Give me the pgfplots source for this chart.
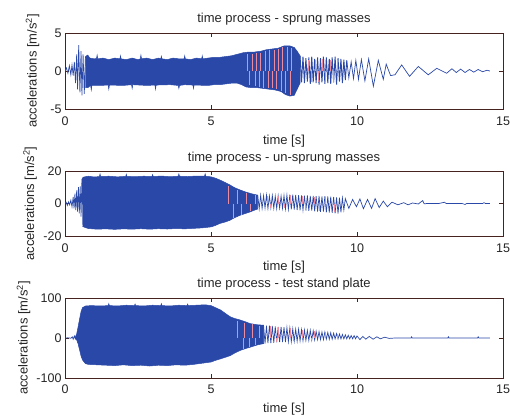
\documentclass[border=0pt]{standalone}
\usepackage{fontspec}
\setmainfont{Liberation Sans}
\usepackage{pgfplots}
\pgfplotsset{compat=1.18}
\definecolor{mblue}{RGB}{42,72,168}
\definecolor{mred}{RGB}{236,140,160}
\definecolor{axcol}{RGB}{70,35,30}
\pgfplotsset{
 mstyle/.style={
  scale only axis, width=438pt,
  xmin=0, xmax=15, xtick={0,5,10,15}, xticklabels={0,5,10,15},
  tick pos=both, tick align=inside, major tick length=4pt,
  axis line style={draw=axcol, line width=0.8pt},
  tick style={draw=axcol, line width=0.6pt},
  tick label style={font=\fontsize{12.5}{14}\selectfont, text=black!85},
  label style={font=\fontsize{13}{15}\selectfont, text=black!85},
  title style={font=\fontsize{13}{15}\selectfont, text=black!85, at={(0.5,1)}, anchor=center},
  xticklabel style={anchor=center},
  xlabel style={at={(0.5,0)}, anchor=center},
  xlabel={time [s]},
  ylabel={accelerations [m/s\textsuperscript{2}]},
 }
}
\begin{document}
\begin{tikzpicture}
\path[use as bounding box] (0,0) rectangle (510pt,-415pt);
% ---------------- sprung masses
\begin{axis}[mstyle, at={(65pt,-109pt)}, anchor=south west, height=76pt,
  ymin=-5, ymax=5, ytick={-5,0,5}, yticklabels={-5,0,5},
  title={time process - sprung masses}, title style={yshift=8pt},
  xticklabel style={yshift=-12.5pt}, xlabel style={yshift=-32pt},
  ylabel style={at={(-0.0742,0.5)}, anchor=center}]
\addplot[mblue, line width=0.7pt] coordinates {(0,0)(0.05,0.4)(0.1,-0.3)(0.15,0.7)(0.2,-0.5)(0.24,0.8)(0.28,-0.6)(0.32,1.2)(0.36,-1.6)(0.4,2.2)(0.43,-2.4)(0.47,3.4)(0.51,-2.8)(0.55,2.6)(0.58,-3.2)(0.62,2.2)(0.66,-3.0)(0.7,1.9)};
\addplot[draw=mblue, fill=mblue, line width=0.5pt] coordinates {
(0.70,1.9)(0.78,2.1)(0.85,1.7)(1.0,1.6)(1.08,1.65)(1.1,2.1)(1.12,1.6)(1.3,1.7)(1.5,1.5)(1.7,1.7)(1.88,1.6)(1.9,2.0)(1.92,1.6)(2.1,1.5)(2.3,1.7)(2.5,1.5)(2.58,1.6)(2.6,2.1)(2.62,1.6)(2.8,1.7)(3.0,1.5)(3.2,1.7)(3.28,1.6)(3.3,1.95)(3.32,1.6)(3.5,1.5)(3.7,1.7)(3.9,1.6)(4.08,1.6)(4.1,2.0)(4.12,1.6)(4.3,1.5)(4.5,1.7)(4.68,1.6)(4.7,2.0)(4.72,1.6)(4.9,1.7)(5.1,1.8)(5.3,1.8)(5.5,1.9)(5.7,2.0)(5.9,2.2)(6.1,2.4)(6.3,2.5)(6.5,2.5)(6.7,2.6)(6.9,2.8)(7.1,2.9)(7.3,3.0)(7.5,3.3)(7.7,3.3)(7.85,3.1)(7.95,2.6)(8.05,2.0)
(8.05,-1.6)(7.95,-2.4)(7.85,-3.2)(7.7,-3.3)(7.55,-3.1)(7.4,-2.7)(7.2,-2.5)(7.0,-2.4)(6.8,-2.3)(6.6,-2.2)(6.4,-2.2)(6.2,-2.1)(6.05,-1.8)(5.9,-1.6)(5.7,-1.6)(5.5,-1.7)(5.3,-1.8)(5.1,-1.8)(4.9,-1.9)(4.42,-1.85)(4.4,-2.3)(4.38,-1.85)(4.1,-1.8)(3.92,-1.9)(3.9,-2.3)(3.88,-1.9)(3.6,-1.8)(3.12,-1.85)(3.1,-2.4)(3.08,-1.85)(2.8,-1.9)(2.32,-1.8)(2.3,-2.3)(2.28,-1.8)(2.0,-1.9)(1.52,-1.85)(1.5,-2.4)(1.48,-1.85)(1.2,-1.9)(0.92,-1.9)(0.9,-2.5)(0.88,-1.9)(0.78,-2.2)(0.7,-2.2)};
\addplot[ycomb, draw=mred, line width=0.5pt] coordinates {(6.25,2.2)(6.4,2.3)(6.55,2.4)(6.7,2.4)(6.85,2.6)(7.0,2.7)(7.15,2.8)(7.3,2.9)(7.45,3.1)(7.6,3.1)(7.75,3.0)};
\addplot[ycomb, draw=mred, line width=0.5pt] coordinates {(6.3,-1.9)(6.5,-2.0)(6.65,-2.1)(6.8,-2.2)(6.95,-2.2)(7.1,-2.3)(7.25,-2.4)(7.4,-2.6)(7.55,-2.9)(7.7,-3.1)};
\addplot[mblue, line width=0.9pt] coordinates {(8.05,2.0)(8.10,-1.5)(8.15,1.9)(8.20,-1.6)(8.25,1.7)(8.30,-1.4)(8.35,1.8)(8.40,-1.7)(8.45,1.9)(8.50,-1.5)(8.55,1.6)(8.60,-1.6)(8.65,1.8)(8.70,-1.8)(8.75,1.7)(8.80,-1.5)(8.85,1.9)(8.90,-1.7)(8.95,1.8)(9.00,-1.6)(9.05,1.6)(9.10,-1.7)(9.15,1.8)(9.20,-1.5)(9.25,1.9)(9.30,-1.8)(9.35,1.7)(9.40,-1.4)(9.45,1.6)(9.50,-1.6)(9.55,1.5)(9.60,-1.2)(9.65,1.4)};
\addplot[mblue, line width=0.7pt] coordinates {(9.65,1.4)(9.72,-0.9)(9.80,1.2)(9.88,-1.0)(9.96,1.4)(10.05,-1.1)(10.15,1.5)(10.27,-1.3)(10.4,1.6)(10.56,-2.0)(10.73,1.4)(10.9,-1.1)(11.0,0.9)(11.15,-0.6)(11.3,-0.5)(11.53,0.8)(11.8,-0.7)(12.1,0.6)(12.44,-0.5)(12.73,0.35)(13.07,-0.3)(13.25,0.3)(13.4,-0.2)(13.55,0.25)(13.7,-0.2)(13.85,0.2)(14.0,-0.15)(14.15,0.2)(14.3,-0.1)(14.45,0.1)(14.55,0)};
\addplot[ycomb, draw=mred, line width=0.5pt] coordinates {(8.32,1.5)(8.57,1.4)(8.82,1.6)(9.07,1.4)(9.32,1.5)};
\addplot[ycomb, draw=mred, line width=0.5pt] coordinates {(8.42,-1.5)(8.67,-1.4)(8.92,-1.5)(9.17,-1.4)};
\end{axis}
% ---------------- un-sprung masses
\begin{axis}[mstyle, at={(65pt,-236pt)}, anchor=south west, height=65pt,
  ymin=-20, ymax=20, ytick={-20,0,20}, yticklabels={-20,0,20},
  title={time process - un-sprung masses}, title style={yshift=7pt},
  xticklabel style={yshift=-12pt}, xlabel style={yshift=-31pt},
  ylabel style={at={(-0.0799,0.5)}, anchor=center}]
\addplot[mblue, line width=0.7pt] coordinates {(0,0)(0.04,0.8)(0.08,-1.2)(0.12,1.0)(0.16,-0.8)(0.2,2)(0.24,-2)(0.28,4)(0.31,-3)(0.34,6)(0.37,-4)(0.4,8)(0.43,-5)(0.46,10)(0.49,-6)(0.52,10.5)(0.55,-8)(0.58,15)};
\addplot[draw=mblue, fill=mblue, line width=0.5pt] coordinates {
(0.58,15)(0.62,16.2)(0.8,16.8)(1.0,16.3)(1.18,16.6)(1.2,18.2)(1.22,16.6)(1.5,16.8)(1.8,16.4)(2.08,16.7)(2.1,18)(2.12,16.7)(2.4,16.5)(2.7,16.8)(2.98,16.6)(3.0,17.8)(3.02,16.6)(3.3,16.9)(3.6,16.5)(3.88,16.8)(3.9,18.2)(3.92,16.8)(4.2,16.6)(4.5,16.9)(4.78,16.8)(4.8,18.3)(4.82,16.8)(5.0,16.4)(5.15,15.6)(5.3,14.5)(5.5,12.8)(5.65,11.4)(5.8,9.8)(6.0,8.3)(6.2,7.0)(6.35,6.2)(6.5,5.5)(6.6,5.2)
(6.6,-3.4)(6.5,-4.0)(6.35,-5.1)(6.2,-6.0)(6.0,-7.2)(5.8,-8.8)(5.65,-10.3)(5.5,-11.3)(5.3,-12.3)(5.15,-13.5)(5.0,-14.4)(4.7,-15)(4.4,-15.3)(4.1,-15.6)(3.8,-15.4)(3.5,-15.7)(3.2,-15.5)(2.9,-15.8)(2.6,-15.5)(2.3,-15.8)(2.0,-15.6)(1.7,-15.9)(1.4,-15.6)(1.1,-15.8)(0.8,-15.4)(0.65,-14.5)(0.6,-14)};
\addplot[ycomb, draw=mred, line width=0.5pt] coordinates {(5.6,11)(5.9,8.5)(6.2,6.5)(6.5,5.0)};
\addplot[ycomb, draw=mred, line width=0.5pt] coordinates {(5.75,-9)(6.05,-6.8)(6.35,-4.8)};
\addplot[mblue, line width=0.7pt] coordinates {(6.60,5.2)(6.65,-3.2)(6.70,5.0)(6.75,-3.0)(6.80,4.8)(6.85,-2.8)(6.90,5.1)(6.95,-3.0)(7.00,4.6)(7.05,-2.7)(7.10,4.9)(7.15,-2.9)(7.20,4.5)(7.25,-3.1)(7.30,4.8)(7.35,-2.8)(7.40,4.6)(7.45,-3.0)(7.50,4.9)(7.55,-3.3)(7.60,5.2)(7.65,-3.5)(7.70,5.4)(7.75,-3.6)(7.80,5.5)(7.85,-3.8)(7.90,5.3)(7.95,-4.0)(8.00,5.1)(8.05,-4.2)(8.10,5.0)(8.15,-4.0)(8.20,4.8)(8.25,-4.3)(8.30,5.0)(8.35,-4.5)(8.40,4.7)(8.45,-4.4)(8.50,4.6)(8.55,-4.8)(8.60,4.5)(8.65,-5.0)(8.70,4.6)(8.75,-5.2)(8.80,4.4)(8.85,-5.0)(8.90,4.5)(8.95,-5.5)(9.00,4.3)(9.05,-5.6)(9.10,4.2)(9.15,-5.8)(9.20,4.0)(9.25,-6.0)(9.30,3.8)(9.35,-6.2)(9.40,3.6)(9.45,-5.5)(9.50,3.4)(9.55,-4.0)(9.60,3.0)(9.72,-3.0)(9.85,2.5)(9.98,-2.0)(10.1,2.8)(10.22,-3.2)(10.36,2.5)(10.5,-3.0)(10.62,3.0)(10.76,-2.5)(10.9,1.5)(11.04,-2.0)(11.2,0.8)(11.4,-0.8)(11.6,0.5)(11.75,-0.8)(11.9,0.3)(12.1,-0.3)(12.25,1.8)(12.3,-0.2)(12.4,0)(12.8,0)(13.0,0.8)(13.05,0)(13.6,0)(13.7,-0.6)(13.75,0)(14.3,0)(14.35,0.5)(14.4,0)(14.55,0)};
\addplot[ycomb, draw=mred, line width=0.5pt] coordinates {(6.92,4.5)(7.32,4.4)(7.72,5.0)(8.12,4.6)(8.52,4.3)(8.92,4.0)};
\addplot[ycomb, draw=mred, line width=0.5pt] coordinates {(7.02,-2.7)(7.52,-3.0)(8.22,-4.0)(8.72,-4.6)(9.22,-5.5)};
\end{axis}
% ---------------- test stand plate
\begin{axis}[mstyle, at={(65pt,-378pt)}, anchor=south west, height=80pt,
  ymin=-100, ymax=100, ytick={-100,0,100}, yticklabels={-100,0,100},
  title={time process - test stand plate}, title style={yshift=8pt},
  xticklabel style={yshift=-11pt}, xlabel style={yshift=-31pt},
  ylabel style={at={(-0.0947,0.5)}, anchor=center}]
\addplot[mblue, line width=0.7pt] coordinates {(0,0)(0.1,0.5)(0.2,-0.5)(0.25,3)(0.28,-3)(0.32,5)(0.35,-2)};
\addplot[draw=mblue, fill=mblue, line width=0.5pt] coordinates {
(0.35,2)(0.4,10)(0.45,28)(0.5,48)(0.55,66)(0.6,76)(0.7,80)(0.9,81)(1.2,80)(1.48,81)(1.5,86)(1.52,81)(1.8,80)(2.1,82)(2.38,81)(2.4,85)(2.42,81)(2.7,80)(3.0,82)(3.28,81)(3.3,86)(3.32,81)(3.6,80)(3.9,82)(4.18,81)(4.2,85)(4.22,81)(4.5,82)(4.8,83)(5.0,81)(5.15,76)(5.33,70)(5.5,61)(5.66,53)(5.8,49)(6.0,45)(6.2,40)(6.34,36)(6.6,33)(6.8,32)
(6.8,-14)(6.6,-17)(6.34,-23)(6.2,-26)(6.0,-31)(5.8,-38)(5.66,-44)(5.5,-48)(5.33,-52)(5.15,-56)(5.0,-60)(4.7,-63)(4.4,-66)(4.1,-68)(3.8,-67)(3.5,-69)(3.2,-68)(2.9,-70)(2.6,-68)(2.3,-69)(2.0,-67)(1.7,-69)(1.4,-68)(1.1,-67)(0.8,-66)(0.7,-64)(0.6,-55)(0.55,-45)(0.5,-30)(0.45,-15)(0.4,-5)(0.35,-2)};
\addplot[ycomb, draw=mred, line width=0.5pt] coordinates {(5.9,42)(6.15,38)(6.4,34)(6.65,31)};
\addplot[ycomb, draw=mred, line width=0.5pt] coordinates {(6.1,-27)(6.3,-22)(6.5,-18)};
\addplot[mblue, line width=0.7pt] coordinates {(6.80,32)(6.85,-14)(6.90,31)(6.95,-13)(7.00,31)(7.05,-13)(7.10,30)(7.15,-12)(7.20,29)(7.25,-11)(7.30,28)(7.35,-10)(7.40,28)(7.45,-10)(7.50,27)(7.55,-10)(7.60,26)(7.65,-9)(7.70,25)(7.75,-9)(7.80,23)(7.85,-8)(7.90,22)(7.95,-8)(8.00,22)(8.05,-7)(8.10,21)(8.15,-7)(8.20,20)(8.25,-6)(8.30,19)(8.35,-6)(8.40,19)(8.45,-5)(8.50,18)(8.55,-5)(8.60,17)(8.65,-4)(8.70,16)(8.75,-4)(8.80,15)(8.85,-4)(8.90,15)(8.95,-3)(9.00,14)(9.05,-3)(9.10,13)(9.15,-3)(9.20,12)(9.25,-2)(9.30,11)(9.35,-2)(9.40,10)(9.45,-2)(9.50,9)(9.55,-2)(9.60,8)(9.65,-2)(9.70,7)(9.75,-2)(9.80,6)(9.85,-2)(9.90,6)(9.95,-2)(10.0,5)(10.1,-4)(10.2,4)(10.3,-3)(10.42,4)(10.55,-3)(10.68,3)(10.8,-2)(10.95,2)(11.1,-1)(11.3,0)(11.85,0)(11.87,3)(11.89,0)(13.11,0)(13.13,3)(13.15,0)(14.13,0)(14.15,3)(14.17,0)(14.55,0)};
\addplot[ycomb, draw=mred, line width=0.5pt] coordinates {(7.02,29)(7.32,27)(7.72,24)(8.12,20)(8.52,17)(8.92,14)(9.32,10)};
\addplot[ycomb, draw=mred, line width=0.5pt] coordinates {(7.22,-10)(7.82,-8)(8.42,-5)};
\end{axis}
\end{tikzpicture}
\end{document}
